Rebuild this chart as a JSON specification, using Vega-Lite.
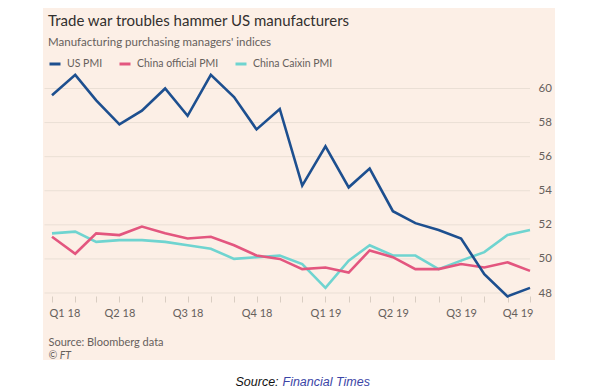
{
  "$schema": "https://vega.github.io/schema/vega-lite/v6.json",
  "autosize": {"type": "none"},
  "width": 512,
  "height": 352,
  "padding": {"left": 43, "top": 8, "right": 52, "bottom": 29},
  "background": "#ffffff",
  "config": {
    "view": {"fill": "#fcefe6", "stroke": null},
    "font": "Lato"
  },
  "title": {
    "text": "Trade war troubles hammer US manufacturers",
    "subtitle": "Manufacturing purchasing managers' indices",
    "anchor": "start",
    "frame": "group",
    "orient": "top",
    "dx": 5,
    "offset": -40,
    "font": "Lato",
    "fontSize": 15,
    "fontWeight": "normal",
    "color": "#33302e",
    "subtitleFont": "Lato",
    "subtitleFontSize": 11.5,
    "subtitleColor": "#66605c",
    "subtitlePadding": 8
  },
  "datasets": {
    "grid": [{"v": 48}, {"v": 50}, {"v": 52}, {"v": 54}, {"v": 56}, {"v": 58}, {"v": 60}],
    "pmi": [
      {"date": "2018-01-01T00:00", "series": "China Caixin PMI", "value": 51.5},
      {"date": "2018-02-01T00:00", "series": "China Caixin PMI", "value": 51.6},
      {"date": "2018-03-01T00:00", "series": "China Caixin PMI", "value": 51.0},
      {"date": "2018-04-01T00:00", "series": "China Caixin PMI", "value": 51.1},
      {"date": "2018-05-01T00:00", "series": "China Caixin PMI", "value": 51.1},
      {"date": "2018-06-01T00:00", "series": "China Caixin PMI", "value": 51.0},
      {"date": "2018-07-01T00:00", "series": "China Caixin PMI", "value": 50.8},
      {"date": "2018-08-01T00:00", "series": "China Caixin PMI", "value": 50.6},
      {"date": "2018-09-01T00:00", "series": "China Caixin PMI", "value": 50.0},
      {"date": "2018-10-01T00:00", "series": "China Caixin PMI", "value": 50.1},
      {"date": "2018-11-01T00:00", "series": "China Caixin PMI", "value": 50.2},
      {"date": "2018-12-01T00:00", "series": "China Caixin PMI", "value": 49.7},
      {"date": "2019-01-01T00:00", "series": "China Caixin PMI", "value": 48.3},
      {"date": "2019-02-01T00:00", "series": "China Caixin PMI", "value": 49.9},
      {"date": "2019-03-01T00:00", "series": "China Caixin PMI", "value": 50.8},
      {"date": "2019-04-01T00:00", "series": "China Caixin PMI", "value": 50.2},
      {"date": "2019-05-01T00:00", "series": "China Caixin PMI", "value": 50.2},
      {"date": "2019-06-01T00:00", "series": "China Caixin PMI", "value": 49.4},
      {"date": "2019-07-01T00:00", "series": "China Caixin PMI", "value": 49.9},
      {"date": "2019-08-01T00:00", "series": "China Caixin PMI", "value": 50.4},
      {"date": "2019-09-01T00:00", "series": "China Caixin PMI", "value": 51.4},
      {"date": "2019-10-01T00:00", "series": "China Caixin PMI", "value": 51.7},
      {"date": "2018-01-01T00:00", "series": "China official PMI", "value": 51.3},
      {"date": "2018-02-01T00:00", "series": "China official PMI", "value": 50.3},
      {"date": "2018-03-01T00:00", "series": "China official PMI", "value": 51.5},
      {"date": "2018-04-01T00:00", "series": "China official PMI", "value": 51.4},
      {"date": "2018-05-01T00:00", "series": "China official PMI", "value": 51.9},
      {"date": "2018-06-01T00:00", "series": "China official PMI", "value": 51.5},
      {"date": "2018-07-01T00:00", "series": "China official PMI", "value": 51.2},
      {"date": "2018-08-01T00:00", "series": "China official PMI", "value": 51.3},
      {"date": "2018-09-01T00:00", "series": "China official PMI", "value": 50.8},
      {"date": "2018-10-01T00:00", "series": "China official PMI", "value": 50.2},
      {"date": "2018-11-01T00:00", "series": "China official PMI", "value": 50.0},
      {"date": "2018-12-01T00:00", "series": "China official PMI", "value": 49.4},
      {"date": "2019-01-01T00:00", "series": "China official PMI", "value": 49.5},
      {"date": "2019-02-01T00:00", "series": "China official PMI", "value": 49.2},
      {"date": "2019-03-01T00:00", "series": "China official PMI", "value": 50.5},
      {"date": "2019-04-01T00:00", "series": "China official PMI", "value": 50.1},
      {"date": "2019-05-01T00:00", "series": "China official PMI", "value": 49.4},
      {"date": "2019-06-01T00:00", "series": "China official PMI", "value": 49.4},
      {"date": "2019-07-01T00:00", "series": "China official PMI", "value": 49.7},
      {"date": "2019-08-01T00:00", "series": "China official PMI", "value": 49.5},
      {"date": "2019-09-01T00:00", "series": "China official PMI", "value": 49.8},
      {"date": "2019-10-01T00:00", "series": "China official PMI", "value": 49.3},
      {"date": "2018-01-01T00:00", "series": "US PMI", "value": 59.6},
      {"date": "2018-02-01T00:00", "series": "US PMI", "value": 60.8},
      {"date": "2018-03-01T00:00", "series": "US PMI", "value": 59.3},
      {"date": "2018-04-01T00:00", "series": "US PMI", "value": 57.9},
      {"date": "2018-05-01T00:00", "series": "US PMI", "value": 58.7},
      {"date": "2018-06-01T00:00", "series": "US PMI", "value": 60.0},
      {"date": "2018-07-01T00:00", "series": "US PMI", "value": 58.4},
      {"date": "2018-08-01T00:00", "series": "US PMI", "value": 60.8},
      {"date": "2018-09-01T00:00", "series": "US PMI", "value": 59.5},
      {"date": "2018-10-01T00:00", "series": "US PMI", "value": 57.6},
      {"date": "2018-11-01T00:00", "series": "US PMI", "value": 58.8},
      {"date": "2018-12-01T00:00", "series": "US PMI", "value": 54.3},
      {"date": "2019-01-01T00:00", "series": "US PMI", "value": 56.6},
      {"date": "2019-02-01T00:00", "series": "US PMI", "value": 54.2},
      {"date": "2019-03-01T00:00", "series": "US PMI", "value": 55.3},
      {"date": "2019-04-01T00:00", "series": "US PMI", "value": 52.8},
      {"date": "2019-05-01T00:00", "series": "US PMI", "value": 52.1},
      {"date": "2019-06-01T00:00", "series": "US PMI", "value": 51.7},
      {"date": "2019-07-01T00:00", "series": "US PMI", "value": 51.2},
      {"date": "2019-08-01T00:00", "series": "US PMI", "value": 49.1},
      {"date": "2019-09-01T00:00", "series": "US PMI", "value": 47.8},
      {"date": "2019-10-01T00:00", "series": "US PMI", "value": 48.3}
    ]
  },
  "resolve": {"axis": {"x": "independent", "y": "independent"}},
  "layer": [
    {
      "data": {"name": "grid"},
      "mark": {"type": "rule", "color": "#eadfd5", "strokeWidth": 1},
      "encoding": {
        "x": {"datum": {"year": 2017, "month": 12, "date": 22}, "type": "temporal",
          "scale": {"domain": [{"year": 2018, "month": 1, "date": 1}, {"year": 2019, "month": 10, "date": 1}], "range": [9, 487], "nice": false},
          "axis": {"orient": "top", "labels": false, "ticks": false, "domain": false, "grid": false,
            "title": "Source:", "titleX": 192, "titleY": 377, "titleAlign": "left", "titleAnchor": null, "titleBaseline": "alphabetic",
            "titleFont": "Liberation Sans", "titleFontStyle": "italic", "titleFontWeight": "normal", "titleFontSize": 12.5, "titleColor": "#111111"}},
        "x2": {"datum": {"year": 2019, "month": 10, "date": 1}},
        "y": {"field": "v", "type": "quantitative",
          "scale": {"domain": [48, 60], "range": [285, 80.5], "nice": false, "zero": false},
          "axis": {"orient": "left", "labels": false, "ticks": false, "domain": false, "grid": false,
            "title": "Financial Times", "titleAngle": 0, "titleX": 239, "titleY": 377, "titleAlign": "left", "titleAnchor": null, "titleBaseline": "alphabetic",
            "titleFont": "Liberation Sans", "titleFontStyle": "italic", "titleFontWeight": "normal", "titleFontSize": 12.5, "titleColor": "#3b45a6"}}
      }
    },
    {
      "data": {"name": "pmi"},
      "mark": {"type": "line", "strokeWidth": 2.6, "strokeJoin": "miter", "clip": false},
      "encoding": {
        "x": {"field": "date", "type": "temporal",
          "axis": {"orient": "bottom", "offset": -64, "domain": false, "grid": false,
            "tickCount": {"interval": "month", "step": 1}, "tickSize": 6, "tickColor": "#d9cdc2", "tickWidth": 1,
            "labelExpr": "month(datum.value) % 3 == 0 ? 'Q' + (month(datum.value) / 3 + 1) + ' ' + timeFormat(datum.value, '%y') : ''",
            "labelFlush": true, "labelFlushOffset": 3, "labelPadding": 5, "labelFont": "Lato", "labelFontSize": 11, "labelColor": "#66605c",
            "title": "Source: Bloomberg data", "titleX": 5, "titleY": 49, "titleAlign": "left", "titleAnchor": null, "titleBaseline": "alphabetic",
            "titleFont": "Lato", "titleFontWeight": "normal", "titleFontSize": 11, "titleColor": "#66605c"}},
        "y": {"field": "value", "type": "quantitative",
          "axis": {"orient": "right", "offset": -25, "values": [48, 50, 52, 54, 56, 58, 60], "domain": false, "ticks": false, "grid": false,
            "labelPadding": 8, "labelAlign": "left", "labelFont": "Lato", "labelFontSize": 11.5, "labelColor": "#66605c",
            "title": "© FT", "titleAngle": 0, "titleX": -482, "titleY": 350, "titleAlign": "left", "titleAnchor": null, "titleBaseline": "alphabetic",
            "titleFont": "Lato", "titleFontStyle": "italic", "titleFontWeight": "normal", "titleFontSize": 10.5, "titleColor": "#66605c"}},
        "color": {"field": "series", "type": "nominal",
          "scale": {"domain": ["US PMI", "China official PMI", "China Caixin PMI"], "range": ["#1d4f8f", "#e3567f", "#6fd4d0"]},
          "legend": {"orient": "none", "legendX": 5, "legendY": 49, "direction": "horizontal", "title": null,
            "symbolType": "stroke", "symbolSize": 121, "symbolStrokeWidth": 3, "labelOffset": 5, "columnPadding": 10,
            "labelFont": "Lato", "labelFontSize": 10.5, "labelColor": "#66605c", "padding": 0}}
      }
    }
  ]
}
